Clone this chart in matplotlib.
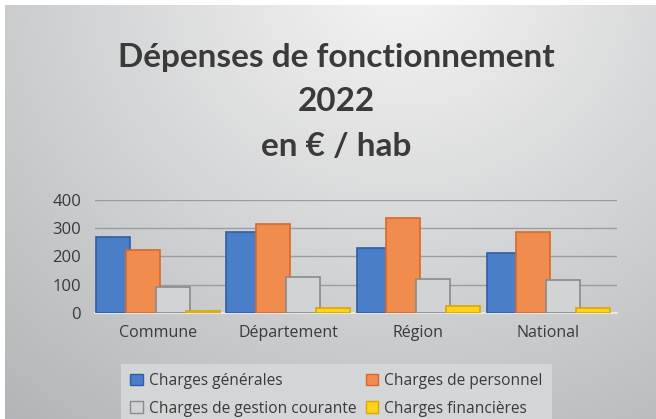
import numpy as np
import matplotlib
matplotlib.use("Agg")
import matplotlib.pyplot as plt

# Data (€ / habitant, 2022)
categories = ["Commune", "Département", "Région", "National"]
series_names = ["Charges générales", "Charges de personnel",
                "Charges de gestion courante", "Charges financières"]
charges_generales = [270, 286, 230, 212]
charges_personnel = [224, 315, 336, 286]
charges_gestion = [91, 128, 121, 117]
charges_financieres = [6, 16, 23, 16]
yticks = [0, 100, 200, 300, 400]

colors = ["#4a7ec8", "#f08c4e", "#d2d3d4", "#ffd21c"]
edges = ["#2c5fa8", "#d9682a", "#8a8a8a", "#d9a800"]

plt.rcParams['font.family'] = ['Open Sans', 'DejaVu Sans']

fig = plt.figure(figsize=(6.56, 4.19), dpi=100)

# background: light radial gradient over grey
bg = fig.add_axes([0, 0, 1, 1])
h, w = 419, 656
yy, xx = np.mgrid[0:h, 0:w]
r = np.sqrt(((xx - 400) / 1.1) ** 2 + (yy + 20) ** 2)
t = np.clip(r / 650, 0, 1)
light = np.array([0.96, 0.96, 0.96])
dark = np.array([0.66, 0.67, 0.68])
img = light[None, None, :] * (1 - t[..., None]) + dark[None, None, :] * t[..., None]
img[:6, :, :] = 1.0
img[:, :5, :] = 1.0
bg.imshow(img, aspect="auto", extent=[0, 1, 0, 1], origin="upper")
bg.set_axis_off()

title_font = ["Lato", "DejaVu Sans"]
for txt, yv in [("Dépenses de fonctionnement", 0.862),
                ("2022", 0.757), ("en € / hab", 0.65)]:
    fig.text(0.513, yv, txt, ha="center", va="center", fontsize=24,
             fontweight="bold", color="#3a3a3a", family=title_font)

ax = fig.add_axes([0.145, 0.253, 0.795, 0.27])
ax.patch.set_alpha(0)
values = [charges_generales, charges_personnel, charges_gestion, charges_financieres]
x = np.arange(len(categories))
bw = 0.23
for i, vals in enumerate(values):
    ax.bar(x + (i - 1.5) * bw, vals, width=bw + 0.03, color=colors[i],
           edgecolor=edges[i], linewidth=1.2, zorder=3 + i * 0.1)

ax.set_xlim(-0.485, 3.525)
ax.set_ylim(0, 400)
ax.set_yticks(yticks)
ax.set_xticks(x)
ax.set_xticklabels(categories)
ax.tick_params(axis="both", length=0, labelsize=11.5, colors="#3a3a3a", pad=9)
ax.tick_params(axis="y", labelsize=12, pad=10)
ax.grid(axis="y", color="#9c9d9f", linewidth=1, zorder=0)
for s in ["top", "right", "left"]:
    ax.spines[s].set_visible(False)
ax.spines["bottom"].set_color("#e6e6e6")
ax.spines["bottom"].set_linewidth(1.5)

# legend filled row-wise: générales, personnel / gestion, financières
order = [0, 2, 1, 3]
handles = [plt.Rectangle((0, 0), 1, 1, facecolor=colors[i], edgecolor=edges[i]) for i in order]
labels = [series_names[i] for i in order]
leg = fig.legend(handles, labels, loc="lower center", bbox_to_anchor=(0.513, -0.035),
                 ncol=2, fontsize=11.2, frameon=True, fancybox=False,
                 handlelength=0.8, handleheight=0.8, handletextpad=0.4,
                 columnspacing=0.6, labelspacing=0.75, borderpad=0.6)
leg.get_frame().set_facecolor("#d6d7d8")
leg.get_frame().set_edgecolor("none")
leg.get_frame().set_alpha(0.95)
for txt in leg.get_texts():
    txt.set_color("#3a3a3a")

fig.savefig("out.png", dpi=100)
